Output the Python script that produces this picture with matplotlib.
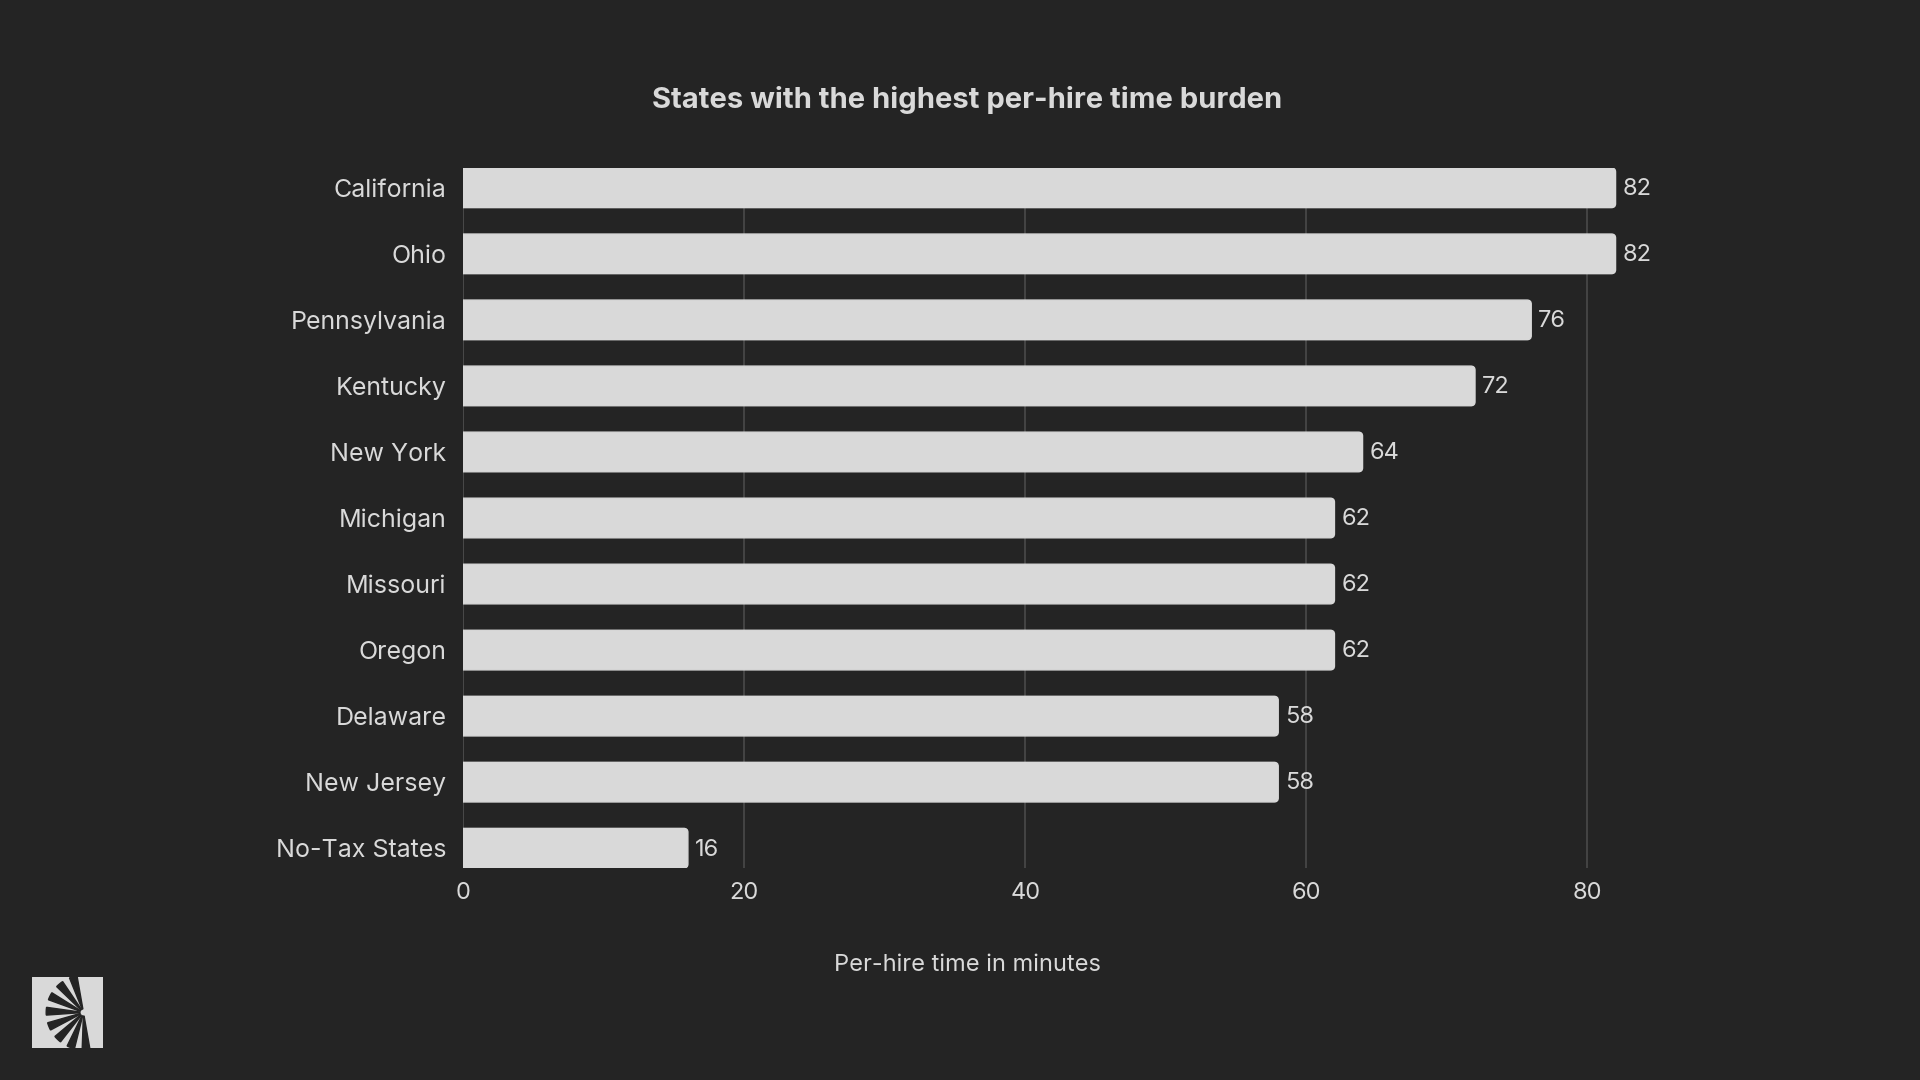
import matplotlib

matplotlib.use("Agg")
import matplotlib.pyplot as plt
import numpy as np
from matplotlib.patches import FancyBboxPatch, Rectangle, Wedge

states = ["California", "Ohio", "Pennsylvania", "Kentucky", "New York", "Michigan",
          "Missouri", "Oregon", "Delaware", "New Jersey", "No-Tax States"]
minutes = [82, 82, 76, 72, 64, 62, 62, 62, 58, 58, 16]
x_ticks = [0, 20, 40, 60, 80]

BG = "#242424"
FG = "#d9d9d9"
GRID = "#4a4a4a"
plt.rcParams["font.family"] = ["Inter", "DejaVu Sans"]

fig = plt.figure(figsize=(19.2, 10.8), dpi=100, facecolor=BG)
W, H = 1920, 1080
# axes box in pixels: left 463, top 168, bottom 868
ax = fig.add_axes([463 / W, 1 - 868 / H, (1728 - 463) / W, (868 - 168) / H])
ax.set_facecolor(BG)

y = np.arange(len(states))
bars = ax.barh(y, minutes, height=0.6, color=FG, zorder=3)
ax.set_ylim(len(states) - 0.7, -0.3)
ax.set_xlim(0, 90)

# swap plain rectangles for ones with softly rounded right corners
# (left corners sit past x=0 and are clipped away)
for b, v in zip(bars, minutes):
    b.set_visible(False)
    rb = FancyBboxPatch((-0.5, b.get_y()), v + 0.5, b.get_height(),
                        boxstyle="round,pad=0,rounding_size=0.3",
                        mutation_aspect=0.2, color=FG, zorder=3)
    ax.add_patch(rb)
    ax.text(v + 0.5, b.get_y() + b.get_height() / 2 + 0.02, f"{v}", va="center",
            ha="left", color=FG, fontsize=17, zorder=4)

ax.set_xticks(x_ticks)
ax.set_yticks(y, states)
ax.tick_params(axis="both", length=0, colors=FG)
ax.tick_params(axis="y", pad=12, labelsize=18)
ax.tick_params(axis="x", pad=10, labelsize=17)
ax.grid(axis="x", color=GRID, linewidth=1.2, zorder=0)
ax.axvline(0, color=GRID, linewidth=1.2, zorder=1)
for s in ax.spines.values():
    s.set_visible(False)

fig.text(967 / W, 1 - 965 / H, "Per-hire time in minutes", ha="center", va="center",
         color=FG, fontsize=17)
fig.text(967 / W, 1 - 100 / H, "States with the highest per-hire time burden",
         ha="center", va="center", color=FG, fontsize=21, fontweight="bold")

# small logo, bottom-left
lax = fig.add_axes([32 / W, 1 - 1048 / H, 71 / W, 71 / H])
lax.set_xlim(-1, 1)
lax.set_ylim(-1, 1)
lax.set_aspect("equal")
lax.axis("off")
lax.add_patch(Rectangle((-1, -1), 2, 2, color=FG))
for a in range(100, 270, 24):
    lax.add_patch(Wedge((0.45, 0), 1.05, a, a + 12, width=0.95, color=BG))

fig.savefig("out.png", dpi=100, facecolor=BG)
